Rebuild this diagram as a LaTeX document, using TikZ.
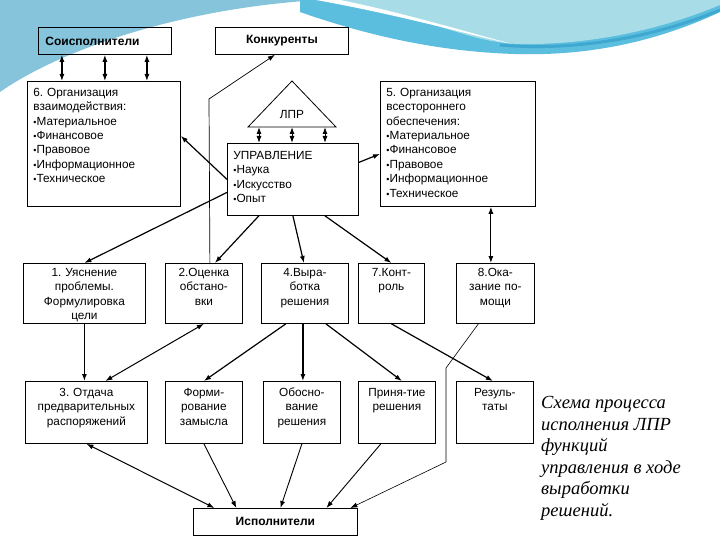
\documentclass[tikz,border=0pt]{standalone}
\usepackage{fontspec}
\setmainfont{Liberation Sans}
\newfontfamily\notefont{Liberation Serif}
\usetikzlibrary{arrows.meta}
\frenchspacing
\definecolor{waveleft} {RGB}{133,196,218}
\definecolor{wavemid}  {RGB}{92, 190,222}
\definecolor{wavelight}{RGB}{168,221,232}
\definecolor{wavedark} {RGB}{62, 168,208}
\newcommand\bul{{\small\textbullet}}
\tikzset{
  schbox/.style={
    draw, line width=0.8pt, rectangle, anchor=north west,
    inner xsep=6pt, inner ysep=0pt, align=center, text width=#1,
    font=\fontsize{11.8}{14.4}\selectfont
  },
  schlist/.style={
    schbox=#1, align=left
  },
  schtitle/.style={
    draw, line width=0.8pt, rectangle, anchor=north west,
    minimum height=27pt, inner xsep=7pt,
    font=\bfseries\fontsize{12}{13}\selectfont
  },
  scharrow/.style={
    -{Latex[length=7pt,width=5pt]}, line width=1.2pt
  },
  schboth/.style={
    {Latex[length=7pt,width=5pt]}-{Latex[length=7pt,width=5pt]}, line width=1.2pt
  },
  schthin/.style={
    -{Latex[length=7pt,width=5pt]}, line width=0.7pt
  },
}
\begin{document}
\begin{tikzpicture}[x=1pt, y=-1pt]
  \useasboundingbox (0,0) rectangle (720,540);
  \fill[white] (0,0) rectangle (720,540);
  % background waves
  \fill[waveleft] (0,0) -- (320,0) .. controls (180,8) and (60,50) .. (0,92) -- cycle;
  \fill[wavemid] (300,0) -- (720,0) -- (720,12) .. controls (650,45) and (580,56) .. (515,54)
    .. controls (450,52) and (380,40) .. (300,12) -- cycle;
  \fill[wavelight] (330,0) -- (720,0) -- (720,5) .. controls (660,30) and (590,45) .. (520,44)
    .. controls (470,43) and (440,20) .. (330,0) -- cycle;
  \fill[white] (316,0) .. controls (400,15) and (470,35) .. (512,44)
    .. controls (460,30) and (400,12) .. (340,0) -- cycle;
  \draw[wavedark, line width=3pt] (500,45) .. controls (580,52) and (660,35) .. (720,10);

  % top row
  \node[schtitle, minimum width=133pt, text width=119pt, align=left] (soisp) at (38,27) {Соисполнители};
  \node[schtitle, minimum width=133pt, align=center] (konk) at (215,27) {Конкуренты};

  % organisation boxes and management
  \node[schlist=141pt, text height=15pt, text depth=110pt] (org6) at (27,81)
    {6. Организация\\взаимодействия:\\\bul Материальное\\\bul Финансовое\\\bul Правовое\\\bul Информационное\\\bul Техническое};
  \node[schlist=143pt, text height=15pt, text depth=110pt] (org5) at (380,81)
    {5. Организация\\всестороннего\\обеспечения:\\\bul Материальное\\\bul Финансовое\\\bul Правовое\\\bul Информационное\\\bul Техническое};
  \node[schlist=119pt, text height=16pt, text depth=56pt] (upr) at (227,143)
    {УПРАВЛЕНИЕ\\\bul Наука\\\bul Искусство\\\bul Опыт};

  \coordinate (lprtop) at (292,81);
  \coordinate (lprl) at (248,127);
  \coordinate (lprr) at (336,127);
  \draw[line width=0.8pt] (lprl) -- (lprtop) -- (lprr) -- cycle;
  \node[font=\fontsize{11.8}{13}\selectfont] (lpr) at (292,114) {ЛПР};

  % first row of stages
  \node[schbox=110pt, text height=13pt, text depth=47pt] (b1) at (23,263)
    {1. Уяснение\\проблемы.\\Формулировка\\цели};
  \node[schbox=65pt, text height=13pt, text depth=47pt] (b2) at (165,263)
    {2.Оценка\\обстано-\\вки};
  \node[schbox=75pt, text height=13pt, text depth=47pt] (b4) at (261,263)
    {4.Выра-\\ботка\\решения};
  \node[schbox=54pt, text height=13pt, text depth=47pt] (b7) at (358,263)
    {7.Конт-\\роль};
  \node[schbox=66pt, text height=13pt, text depth=47pt] (b8) at (456,263)
    {8.Ока-\\зание по-\\мощи};

  % second row
  \node[schbox=110pt, text height=15pt, text depth=47pt] (b3) at (25,381)
    {3. Отдача\\предварительных\\распоряжений};
  \node[schbox=65pt, text height=15pt, text depth=47pt] (bform) at (165,381)
    {Форми-\\рование\\замысла};
  \node[schbox=65pt, text height=15pt, text depth=47pt] (bobos) at (263,381)
    {Обосно-\\вание\\решения};
  \node[schbox=65pt, text height=15pt, text depth=47pt] (bprin) at (358,381)
    {Приня-тие\\решения};
  \node[schbox=65pt, text height=15pt, text depth=47pt] (bres) at (456,381)
    {Резуль-\\таты};

  \node[schtitle, minimum width=164pt, align=center] (isp) at (193,508) {Исполнители};

  \node[anchor=north west, align=left, inner sep=0pt,
        font=\notefont\itshape\fontsize{18.5}{21.6}\selectfont] (note) at (541,396)
    {Схема процесса\\исполнения ЛПР\\функций\\управления в ходе\\выработки\\решений.};

  % connectors
  \foreach \dx in {-43,0,42}
    \draw[schboth] ([xshift=\dx]soisp.south) -- ([xshift=\dx]soisp.south |- org6.north);
  \coordinate (kbend) at (209,99);
  \draw[schthin] ([xshift=6]b2.north) -- (kbend) -- ([xshift=-7]konk.south);
  \foreach \dx in {11,44,77}
    \draw[schboth, line width=1pt] ([xshift=\dx]lprl) -- ([xshift=\dx]lprl |- upr.north);
  \draw[scharrow] (upr.west) -- ([yshift=8]org6.east);
  \draw[scharrow] ([yshift=17]upr.east) -- ([yshift=-10]org5.west);
  \draw[scharrow] ([yshift=-13]upr.west) -- (b1.north);
  \draw[scharrow] ([xshift=-34]upr.south) -- ([xshift=11]b2.north);
  \draw[scharrow] (upr.south) -- ([xshift=-1]b4.north);
  \draw[scharrow] ([xshift=32]upr.south) -- (b7.north);
  \draw[schboth, line width=1pt] ([xshift=33]org5.south) -- ([xshift=33]org5.south |- b8.north);

  \draw[scharrow] (b1.south) -- (b1.south |- b3.north);
  \draw[schboth, line width=1pt] (b2.south) -- ([xshift=19]b3.north);
  \draw[scharrow] ([xshift=-19]b4.south) -- (bform.north);
  \draw[scharrow] ([xshift=-2]b4.south) -- ([xshift=-2]b4.south |- bobos.north);
  \draw[scharrow] ([xshift=21]b4.south) -- ([xshift=5]bprin.north);
  \draw[scharrow] (b7.south) -- ([xshift=-2]bres.north);

  \coordinate (hbend1) at (446,368);
  \coordinate (hbend2) at (446,462);
  \draw[schthin, line width=0.6pt] ([xshift=-17]b8.south) -- (hbend1) -- (hbend2) -- ([xshift=75]isp.north);
  \draw[schboth, line width=1pt] (b3.south) -- ([xshift=-61]isp.north);
  \draw[schthin, line width=0.9pt] (bform.south) -- ([xshift=-39]isp.north);
  \draw[schthin, line width=0.9pt] (bobos.south) -- ([xshift=5]isp.north);
  \draw[schthin, line width=0.9pt] ([xshift=-16]bprin.south) -- ([xshift=51]isp.north);
\end{tikzpicture}
\end{document}
